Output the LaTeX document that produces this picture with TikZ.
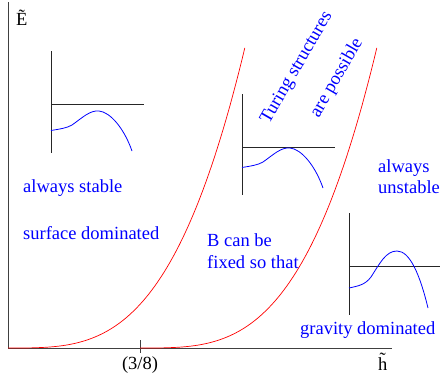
\documentclass[tikz,border=0pt]{standalone}
\usepackage{fontspec}
\setmainfont{Liberation Serif}
\begin{document}
\begin{tikzpicture}[x=1pt,y=-1pt,
  lbl/.style={inner sep=0pt,font=\fontsize{18.5}{22}\selectfont},
  blbl/.style={lbl,text=blue,anchor=base west},
  axis/.style={line width=0.8pt,black!75},
  iaxis/.style={line width=0.8pt,black!85},
  icurve/.style={line width=0.8pt,blue},
  rcurve/.style={line width=0.7pt,red}]
\useasboundingbox (0,0) rectangle (440,383);
% main axes
\coordinate (O) at (8,348);
\coordinate (ytop) at (8,2);
\coordinate (xend) at (392,348);
\draw[axis] (ytop) -- (O) -- (xend);
\coordinate (t1) at (140,340);
\coordinate (t2) at (140,353);
\draw[axis] (t1) -- (t2);
\node[lbl,anchor=base west] (E) at (16,25) {\~E};
\node[lbl,anchor=base west] (h) at (378,370) {\~h};
\node[lbl,anchor=base] (tick) at (140,369) {(3/8)};
% red curves
\draw[rcurve] plot[domain=0.001:1,samples=80] ({8+237*\x},{348-301*pow(\x,3.3)});
\draw[rcurve] plot[domain=0.001:1,samples=80] ({140+237*\x},{348-301*pow(\x,3.3)});
% inset 1
\coordinate (a1) at (51,51); \coordinate (a2) at (51,153);
\coordinate (a3) at (51,104); \coordinate (a4) at (144,104);
\draw[iaxis] (a1) -- (a2);
\draw[iaxis] (a3) -- (a4);
\draw[icurve] (51,130.5) .. controls (60,129) and (67,128) .. (72,125)
  .. controls (82,118) and (90,110) .. (99,111)
  .. controls (110,112) and (124,128) .. (132,151);
% inset 2
\coordinate (b1) at (242,94); \coordinate (b2) at (242,195);
\coordinate (b3) at (242,147); \coordinate (b4) at (335,147);
\draw[iaxis] (b1) -- (b2);
\draw[iaxis] (b3) -- (b4);
\begin{scope}[shift={(191,37)}]
\draw[icurve] (51,130.5) .. controls (60,129) and (67,128) .. (72,125)
  .. controls (82,118) and (90,110) .. (99,111)
  .. controls (110,112) and (124,128) .. (132,151);
\end{scope}
% inset 3
\coordinate (c1) at (349,213); \coordinate (c2) at (349,315);
\coordinate (c3) at (349,266); \coordinate (c4) at (440,266);
\draw[iaxis] (c1) -- (c2);
\draw[iaxis] (c3) -- (c4);
\draw[icurve] (349,288) .. controls (358,286) and (365,285) .. (371,277)
  .. controls (380,263) and (386,251) .. (397,251)
  .. controls (410,251) and (420,275) .. (428,308);
% labels
\node[blbl] (as) at (23,192) {always stable};
\node[blbl] (sd) at (23,239) {surface dominated};
\node[blbl] (bc) at (207,246) {B can be};
\node[blbl] (fx) at (207,268) {fixed so that};
\node[blbl] (al) at (378,172) {always};
\node[blbl] (un) at (378,193) {unstable};
\node[blbl] (gd) at (300,334) {gravity dominated};
\node[lbl,text=blue,rotate=60] (ts) at (297,68) {Turing structures};
\node[lbl,text=blue,rotate=60] (ap) at (337,78) {are possible};
\end{tikzpicture}
\end{document}
